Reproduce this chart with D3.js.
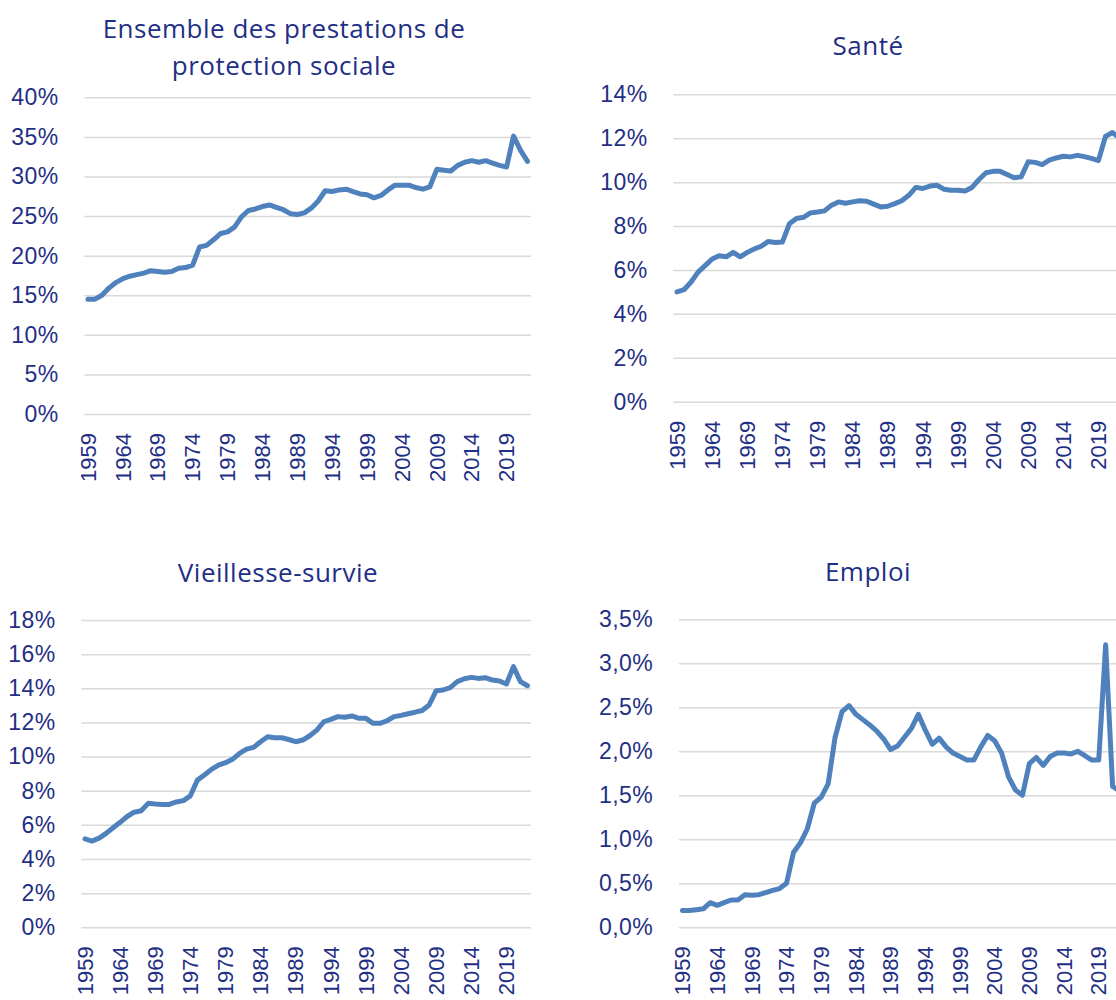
<!DOCTYPE html>
<html>
<head>
<meta charset="utf-8">
<script src="https://cdn.jsdelivr.net/npm/d3@7"></script>
<style>
  body { margin: 0; overflow: hidden; background: #fff; }
  svg { display: block; font-family: "Open Sans", sans-serif; }
  .grid line { stroke: #d9d9d9; stroke-width: 1.5; }
  .grid path { display: none; }
  .years path, .years line { display: none; }
  text { fill: #1f2f85; }
</style>
</head>
<body>
<div id="chart"></div>
<script>
// categories
const firstYear = 1959, lastYear = 2022;
const years = d3.range(firstYear, lastYear + 1);
const yearTicks = [1959, 1964, 1969, 1974, 1979, 1984, 1989, 1994, 1999, 2004, 2009, 2014, 2019];

// series, in % of GDP
const ensemble = [
  14.5, 14.5, 15.0, 15.9, 16.6, 17.1, 17.4, 17.6, 17.8, 18.1,
  18.0, 17.9, 18.0, 18.4, 18.5, 18.8, 21.1, 21.3, 22.0, 22.8,
  23.0, 23.6, 24.9, 25.7, 25.9, 26.2, 26.4, 26.1, 25.8, 25.3,
  25.2, 25.4, 26.0, 26.9, 28.2, 28.1, 28.3, 28.4, 28.1, 27.8,
  27.7, 27.3, 27.6, 28.3, 28.9, 28.9, 28.9, 28.6, 28.4, 28.7,
  30.9, 30.8, 30.7, 31.4, 31.8, 32.0, 31.8, 32.0, 31.7, 31.4,
  31.2, 35.1, 33.3, 31.9
];
const sante = [
  5.0, 5.1, 5.45, 5.9, 6.2, 6.5, 6.65, 6.6, 6.8, 6.6,
  6.8, 6.96, 7.08, 7.3, 7.25, 7.27, 8.1, 8.34, 8.4, 8.6,
  8.64, 8.69, 8.95, 9.1, 9.04, 9.1, 9.15, 9.13, 9.0, 8.87,
  8.9, 9.02, 9.15, 9.4, 9.76, 9.71, 9.82, 9.86, 9.68, 9.63,
  9.63, 9.6, 9.76, 10.12, 10.43, 10.49, 10.49, 10.35, 10.2, 10.24,
  10.93, 10.9, 10.8, 11.0, 11.1, 11.18, 11.15, 11.22, 11.16, 11.08,
  10.98, 12.08, 12.26, 12.0
];
const vieillesse = [
  5.18, 5.05, 5.22, 5.5, 5.83, 6.15, 6.49, 6.74, 6.83, 7.26,
  7.22, 7.2, 7.2, 7.34, 7.42, 7.7, 8.62, 8.92, 9.25, 9.5,
  9.64, 9.84, 10.19, 10.44, 10.54, 10.87, 11.16, 11.1, 11.1, 11.0,
  10.87, 10.97, 11.22, 11.55, 12.04, 12.18, 12.34, 12.3, 12.38, 12.24,
  12.24, 11.95, 11.95, 12.1, 12.34, 12.41, 12.51, 12.6, 12.7, 13.02,
  13.86, 13.9, 14.04, 14.39, 14.56, 14.64, 14.58, 14.62, 14.48, 14.43,
  14.25, 15.27, 14.39, 14.15
];
const emploi = [
  0.19, 0.19, 0.2, 0.21, 0.28, 0.25, 0.28, 0.31, 0.31, 0.37,
  0.365, 0.37, 0.395, 0.42, 0.44, 0.5, 0.85, 0.96, 1.12, 1.41,
  1.48, 1.63, 2.16, 2.45, 2.52, 2.42, 2.36, 2.3, 2.23, 2.14,
  2.02, 2.06, 2.16, 2.26, 2.42, 2.24, 2.08, 2.15, 2.05, 1.98,
  1.94, 1.9, 1.9, 2.05, 2.18, 2.12, 1.98, 1.71, 1.56, 1.5,
  1.86, 1.93, 1.84, 1.94, 1.98, 1.98, 1.97, 2.0, 1.95, 1.9,
  1.9, 3.21, 1.6, 1.55
];

const pct = (d) => d + "%";
const pctComma = (d) => d.toFixed(1).replace(".", ",") + "%";

//layout of the four panels
const panels = [
  { title: ["Ensemble des prestations de", "protection sociale"], values: ensemble,
    yMax: 40, yStep: 5, fmt: pct,
    left: 84.5, right: 531, top: 97.3, bottom: 414, titleX: 284, titleY: 38 },
  { title: ["Santé"], values: sante,
    yMax: 14, yStep: 2, fmt: pct,
    left: 673.5, right: 1123, top: 94.3, bottom: 401.7, titleX: 868, titleY: 55 },
  { title: ["Vieillesse-survie"], values: vieillesse,
    yMax: 18, yStep: 2, fmt: pct,
    left: 81.5, right: 531, top: 620, bottom: 927.3, titleX: 278, titleY: 582 },
  { title: ["Emploi"], values: emploi,
    yMax: 3.5, yStep: 0.5, fmt: pctComma,
    left: 679, right: 1123, top: 619.3, bottom: 927.3, titleX: 868, titleY: 581 },
];

const width = 1116;
const height = 1000;

const svg = d3
  .select("#chart")
  .append("svg")
  .attr("width", width)
  .attr("height", height);

panels.forEach((p) => {
  const xScale = d3
    .scaleBand()
    .domain(years)
    .range([p.left, p.right])
    .padding(0);

  const yScale = d3
    .scaleLinear()
    .domain([0, p.yMax])
    .range([p.bottom, p.top]);

  const g = svg.append("g");

  //title
  const title = g
    .append("text")
    .attr("text-anchor", "middle")
    .attr("font-size", 26)
    .attr("letter-spacing", 0.5);
  title
    .selectAll("tspan")
    .data(p.title)
    .join("tspan")
    .attr("x", p.titleX)
    .attr("y", (d, i) => p.titleY + i * 37)
    .text((d) => d);

  //y grid + labels
  const yTicks = d3.range(0, p.yMax + p.yStep / 2, p.yStep);
  g.append("g")
    .attr("class", "grid")
    .attr("transform", `translate(${p.left},0)`)
    .call(
      d3
        .axisLeft(yScale)
        .tickValues(yTicks)
        .tickSize(-(p.right - p.left))
        .tickPadding(26)
        .tickFormat(p.fmt)
    )
    .call((a) =>
      a.selectAll("text")
        .attr("font-size", 23)
        .attr("letter-spacing", 0.4)
        .attr("font-family", null)
        .attr("fill", null)
    );
  g.selectAll(".grid .tick line").attr("stroke", null);

  //x labels
  g.append("g")
    .attr("class", "years")
    .attr("transform", `translate(0,${p.bottom})`)
    .call(d3.axisBottom(xScale).tickValues(yearTicks).tickSize(0))
    .call((a) =>
      a
        .selectAll("text")
        .attr("font-size", 22)
        .attr("font-family", null)
        .attr("fill", null)
        .attr("text-anchor", "end")
        .attr("transform", "rotate(-90)")
        .attr("x", -19)
        .attr("y", 0)
        .attr("dy", "0.35em")
    );

  //line
  const line = d3
    .line()
    .x((d, i) => xScale(years[i]) + xScale.bandwidth() / 2)
    .y((d) => yScale(d));

  g.append("path")
    .datum(p.values)
    .attr("fill", "none")
    .attr("stroke", "#4f81bd")
    .attr("stroke-width", 5)
    .attr("stroke-linejoin", "round")
    .attr("stroke-linecap", "round")
    .attr("d", line);
});
</script>
</body>
</html>
